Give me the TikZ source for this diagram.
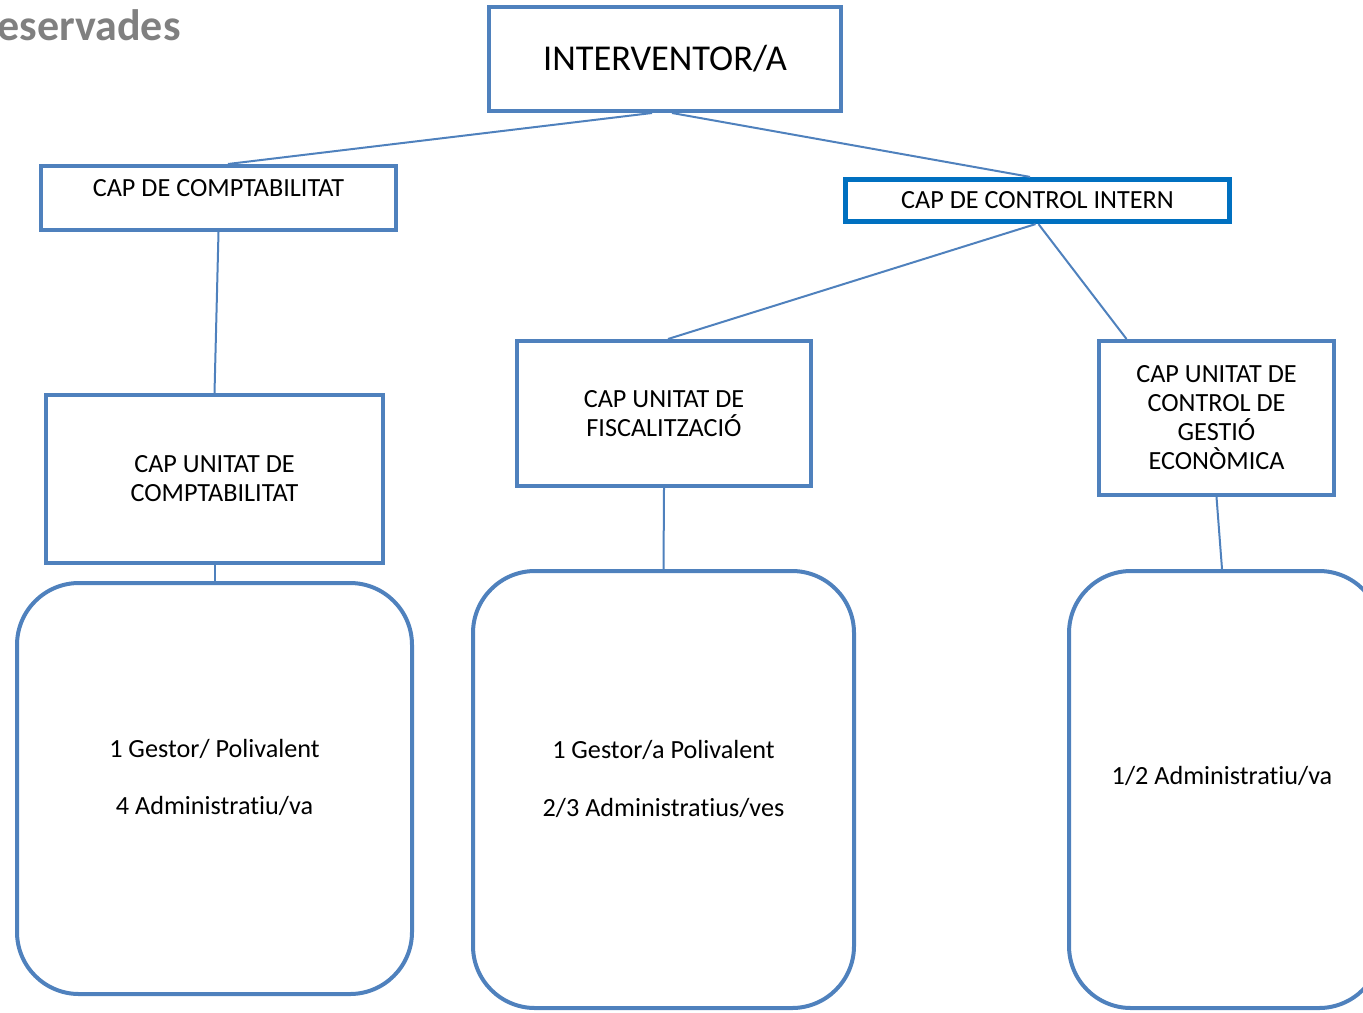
\documentclass[tikz,border=0pt]{standalone}
\usepackage{fontspec}
\setmainfont{Carlito}[Ligatures=CommonOff]
\usepackage{xcolor}
\usepackage{tikz}
\usetikzlibrary{positioning, calc}
\definecolor{offblue}{HTML}{4F81BD}
\definecolor{ctrlblue}{HTML}{0070C0}
\definecolor{markgray}{HTML}{808080}

\begin{document}
\begin{tikzpicture}[x=0.5pt, y=-0.5pt,
  box/.style={draw=offblue, line width=2pt, inner sep=0pt, align=center,
    font=\fontsize{13.1pt}{14.5pt}\selectfont},
  staff/.style={draw=offblue, line width=2pt, rounded corners=31pt, inner sep=0pt},
  txt/.style={align=center, font=\fontsize{13.1pt}{14.5pt}\selectfont},
  link/.style={draw=offblue, line width=1pt}]
% Frame
\useasboundingbox (0,0) rectangle (1363,1012);
\clip (0,0) rectangle (1363,1012);
% Cut-off heading
\node[anchor=base east, text=markgray, font=\fontsize{22pt}{24pt}\selectfont\bfseries, inner sep=0pt]
  (head) at (181,40) {eservades};
% Top
\node[box, minimum width=176pt, minimum height=52pt,
  font=\fontsize{18.2pt}{20pt}\selectfont] (interv) at (665,59) {INTERVENTOR/A};
% Second level
\node[box, minimum width=177.5pt, minimum height=32pt] (comp) at (218.5,198) {};
\node[txt] (comptxt) at (218.5,188) {CAP DE COMPTABILITAT};
\node[box, draw=ctrlblue, line width=2.6pt, minimum width=192pt, minimum height=21pt]
  (ctrl) at (1037.5,200.5) {CAP DE CONTROL INTERN};
% Units
\node[box, minimum width=168.5pt, minimum height=84pt] (ucomp) at (214.5,479)
  {CAP UNITAT DE\\COMPTABILITAT};
\node[box, minimum width=147pt, minimum height=72.5pt] (fisc) at (664,413.5)
  {CAP UNITAT DE\\FISCALITZACIÓ};
\node[box, minimum width=117.5pt, minimum height=77pt] (gest) at (1216.5,418)
  {CAP UNITAT DE\\CONTROL DE\\GESTIÓ\\ECONÒMICA};
% Staff
\node[staff, minimum width=197.5pt, minimum height=205.5pt] (staffa) at (214.5,788.5) {};
\node[txt] (staffatxt) at (214.5,777.5) {1 Gestor/ Polivalent\\[14pt]4 Administratiu/va};
\node[staff, minimum width=190.5pt, minimum height=218.5pt] (staffb) at (663.5,789.5) {};
\node[txt] (staffbtxt) at (663.5,779) {1 Gestor/a Polivalent\\[14.5pt]2/3 Administratius/ves};
\node[staff, minimum width=156pt, minimum height=218.5pt] (staffc) at (1225,789.5) {};
\node[txt] (staffctxt) at (1222,776) {1/2 Administratiu/va};
% Links
\draw[link] ([xshift=-6.5pt]interv.south) -- ([xshift=4.75pt]comp.north);
\draw[link] ([xshift=3.5pt]interv.south) -- ([xshift=-3.75pt]ctrl.north);
\draw[link] (comp.south) -- (ucomp.north);
\draw[link] ([xshift=-1pt]ctrl.south) -- ([xshift=2pt]fisc.north);
\draw[link] ([xshift=0.5pt]ctrl.south) -- ([xshift=-45pt]gest.north);
\draw[link] (ucomp.south) -- (staffa.north);
\draw[link] (fisc.south) -- (staffb.north);
\draw[link] (gest.south) -- ([xshift=-1.5pt]staffc.north);
\end{tikzpicture}
\end{document}
